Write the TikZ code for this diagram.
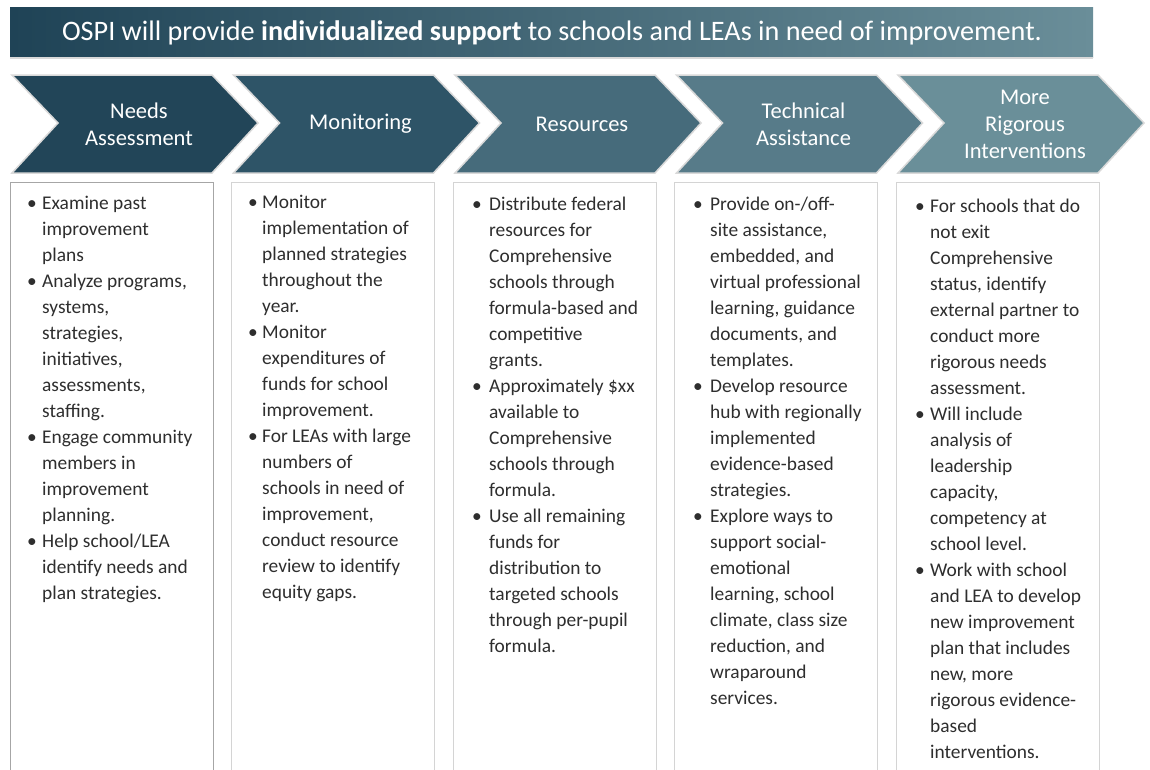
\documentclass[tikz,border=0pt]{standalone}
\usepackage{fontspec}
\setmainfont{Carlito}
\usetikzlibrary{positioning}

\definecolor{titleL}{HTML}{1F4356}
\definecolor{titleR}{HTML}{6A8E99}
\definecolor{chevA}{HTML}{224558}
\definecolor{chevB}{HTML}{2E5467}
\definecolor{chevC}{HTML}{466B7B}
\definecolor{chevD}{HTML}{577B89}
\definecolor{chevE}{HTML}{6A8F99}
\definecolor{rim}{HTML}{D9D9D9}
\definecolor{frameA}{HTML}{A6A6A6}
\definecolor{frameB}{HTML}{D4D4D4}
\definecolor{bodytext}{HTML}{2E2E2E}

\tikzset{
  chevlabel/.style={text=white, align=center, inner sep=0pt,
    font=\fontsize{22.5}{27}\selectfont},
  chevshape/.style={draw=rim, line width=1.5pt},
  panel/.style={fill=white, line width=1pt},
  bullets/.style={anchor=base west, inner sep=0pt, text=bodytext,
    font=\fontsize{19.4}{26}\selectfont}
}
\newcommand{\bl}{\textbullet}

\begin{document}
\begin{tikzpicture}[x=1pt, y=-1pt]
  \useasboundingbox (0,0) rectangle (1150,769);
  \clip (0,0) rectangle (1150,769);

  % banner
  \shade[left color=titleL, right color=titleR] (10,7) rectangle (1093,57);
  \draw[rim, line width=1.5pt] (10,58) -- (1093,58);
  \node[text=white, inner sep=0pt, font=\fontsize{28.2}{31}\selectfont] (banner) at (552,33)
    {OSPI will provide \textbf{individualized support} to schools and LEAs in need of improvement.};

  % chevrons
  \foreach \i/\col/\lbl in {0/chevA/{Needs\\Assessment}, 1/chevB/{Monitoring},
      2/chevC/{Resources}, 3/chevD/{Technical\\Assistance},
      4/chevE/{More\\Rigorous\\Interventions}} {
    \pgfmathsetmacro\L{12+221.5*\i}
    \filldraw[chevshape, fill=\col] (\L,75) -- ++(200,0) -- ++(46,48) -- ++(-46,50)
      -- ++(-200,0) -- ++(46,-50) -- cycle;
    \node[chevlabel] (step\i) at (\L+127,124) {\lbl};
  }

  % panels
  \foreach \i/\col in {0/frameA, 1/frameB, 2/frameB, 3/frameB, 4/frameB} {
    \pgfmathsetmacro\L{10+221.5*\i}
    \draw[panel, draw=\col] (\L,182) rectangle (\L+203,790);
  }

  \node[bullets] (needs) at (27,209) {\begin{tabular}[t]{@{}p{15pt}@{}l@{}}
    \bl & Examine past\\ & improvement\\ & plans\\
    \bl & Analyze programs,\\ & systems,\\ & strategies,\\ & initiatives,\\ & assessments,\\ & staffing.\\
    \bl & Engage community\\ & members in\\ & improvement\\ & planning.\\
    \bl & Help school/LEA\\ & identify needs and\\ & plan strategies.
  \end{tabular}};

  \node[bullets] (monitor) at (248,208) {\begin{tabular}[t]{@{}p{14pt}@{}l@{}}
    \bl & Monitor\\ & implementation of\\ & planned strategies\\ & throughout the\\ & year.\\
    \bl & Monitor\\ & expenditures of\\ & funds for school\\ & improvement.\\
    \bl & For LEAs with large\\ & numbers of\\ & schools in need of\\ & improvement,\\ & conduct resource\\ & review to identify\\ & equity gaps.
  \end{tabular}};

  \node[bullets] (resources) at (472,210) {\begin{tabular}[t]{@{}p{17pt}@{}l@{}}
    \bl & Distribute federal\\ & resources for\\ & Comprehensive\\ & schools through\\ & formula-based and\\ & competitive\\ & grants.\\
    \bl & Approximately \$xx\\ & available to\\ & Comprehensive\\ & schools through\\ & formula.\\
    \bl & Use all remaining\\ & funds for\\ & distribution to\\ & targeted schools\\ & through per-pupil\\ & formula.
  \end{tabular}};

  \node[bullets] (techassist) at (693,210) {\begin{tabular}[t]{@{}p{17pt}@{}l@{}}
    \bl & Provide on-/off-\\ & site assistance,\\ & embedded, and\\ & virtual professional\\ & learning, guidance\\ & documents, and\\ & templates.\\
    \bl & Develop resource\\ & hub with regionally\\ & implemented\\ & evidence-based\\ & strategies.\\
    \bl & Explore ways to\\ & support social-\\ & emotional\\ & learning, school\\ & climate, class size\\ & reduction, and\\ & wraparound\\ & services.
  \end{tabular}};

  \node[bullets] (rigorous) at (915,212) {\begin{tabular}[t]{@{}p{15pt}@{}l@{}}
    \bl & For schools that do\\ & not exit\\ & Comprehensive\\ & status, identify\\ & external partner to\\ & conduct more\\ & rigorous needs\\ & assessment.\\
    \bl & Will include\\ & analysis of\\ & leadership\\ & capacity,\\ & competency at\\ & school level.\\
    \bl & Work with school\\ & and LEA to develop\\ & new improvement\\ & plan that includes\\ & new, more\\ & rigorous evidence-\\ & based\\ & interventions.
  \end{tabular}};
\end{tikzpicture}
\end{document}
